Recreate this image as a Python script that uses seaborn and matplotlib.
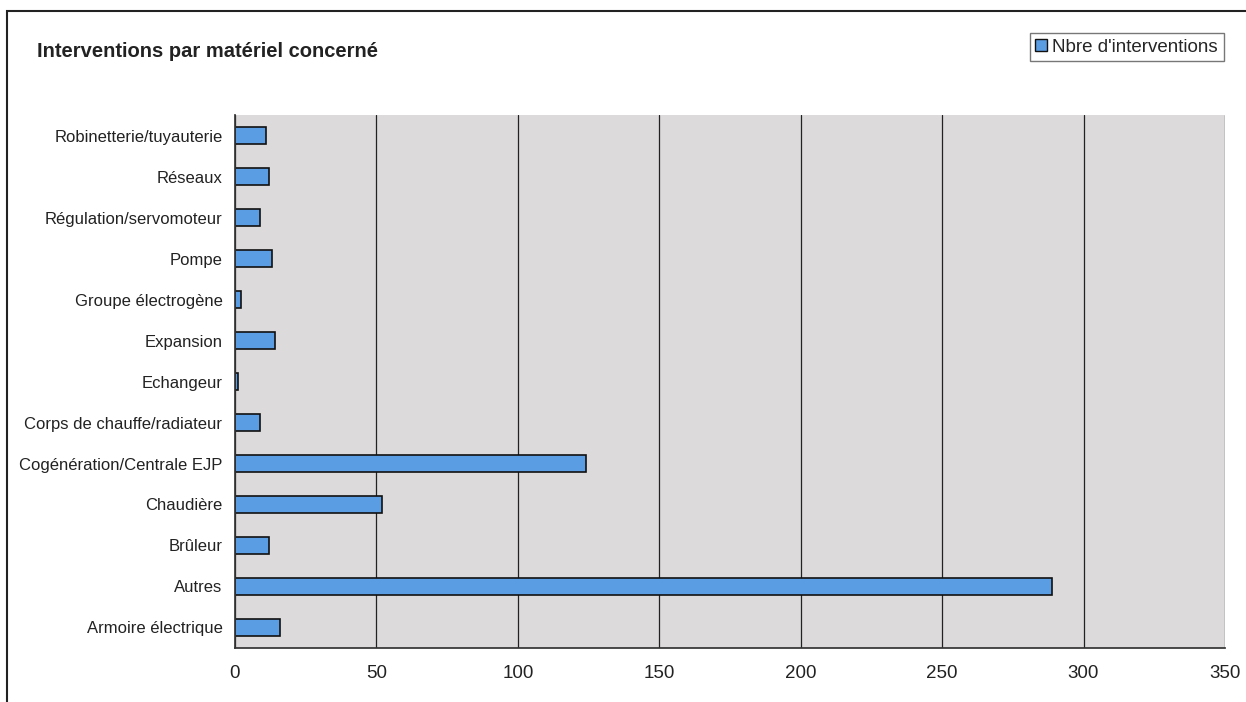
import numpy as np
import pandas as pd
import matplotlib
matplotlib.use('Agg')
import matplotlib.pyplot as plt
import seaborn as sns
from matplotlib.patches import Rectangle, Patch

# données (de haut en bas)
materiels = ["Robinetterie/tuyauterie", "Réseaux", "Régulation/servomoteur", "Pompe",
             "Groupe électrogène", "Expansion", "Echangeur", "Corps de chauffe/radiateur",
             "Cogénération/Centrale EJP", "Chaudière", "Brûleur", "Autres", "Armoire électrique"]
nb_interventions = [11, 12, 9, 13, 2, 14, 1, 9, 124, 52, 12, 289, 16]
x_ticks = [0, 50, 100, 150, 200, 250, 300, 350]

df = pd.DataFrame({"materiel": materiels, "nb": nb_interventions})

sns.set_theme(style="white")
plt.rcParams['font.family'] = ['Liberation Sans', 'DejaVu Sans']

bar_color = '#5b9de3'

fig = plt.figure(figsize=(12.46, 7.02), dpi=100)
ax = fig.add_axes([0.1886, 0.077, 0.7945, 0.759])
ax.set_facecolor('#dcdadb')

sns.barplot(data=df, y="materiel", x="nb", orient='h', color=bar_color,
            width=0.4, edgecolor='#111111', linewidth=1.2, saturation=1, ax=ax)

ax.set_xlim(0, 350)
ax.set_xticks(x_ticks)
ax.set_xticklabels([str(t) for t in x_ticks], fontsize=13.5, color='#222222')
ax.tick_params(axis='y', labelsize=12, colors='#222222', length=4, direction='out', pad=9)
ax.tick_params(axis='x', length=5, direction='out', pad=7)
ax.set_yticks(np.arange(len(materiels) + 1) - 0.5, minor=True)
ax.tick_params(axis='y', which='major', length=0)
ax.tick_params(axis='y', which='minor', length=4, color='#333333')
ax.xaxis.grid(True, color='#222222', linewidth=0.9)
ax.set_axisbelow(True)
ax.set_xlabel("")
ax.set_ylabel("")
for side in ['top', 'right']:
    ax.spines[side].set_visible(False)
ax.spines['left'].set_color('#333333')
ax.spines['bottom'].set_color('#333333')

fig.text(0.03, 0.927, "Interventions par matériel concerné", fontsize=14.5,
         fontweight='bold', color='#222222', va='center')

fig.legend(handles=[Patch(facecolor=bar_color, edgecolor='#111111', label="Nbre d'interventions")],
           loc='upper right', bbox_to_anchor=(0.985, 0.958), fontsize=13.5,
           frameon=True, fancybox=False, edgecolor='#555555', handlelength=0.6,
           handleheight=0.6, handletextpad=0.3, borderpad=0.3, borderaxespad=0.2)

# cadre du graphique
fig.patches.append(Rectangle((0.006, -0.01), 1.1, 0.995, transform=fig.transFigure,
                             fill=False, edgecolor='#222222', linewidth=1.5))

fig.savefig("out.png", dpi=100)
